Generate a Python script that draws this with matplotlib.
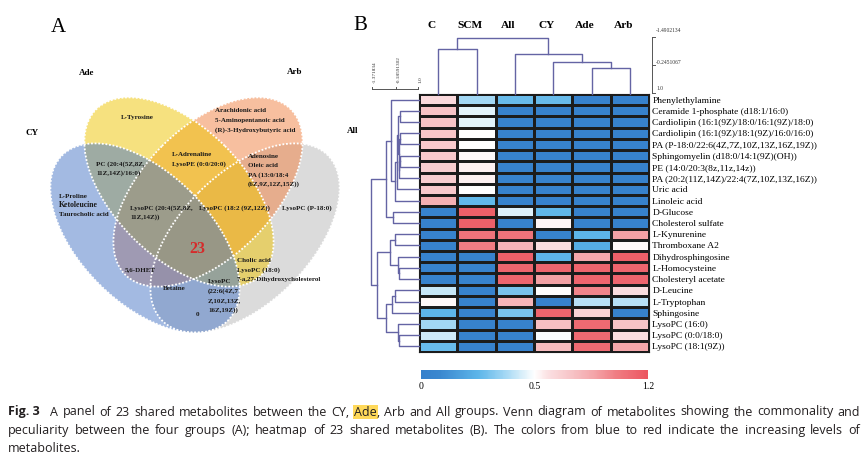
import matplotlib
matplotlib.use("Agg")
import numpy as np
import matplotlib.pyplot as plt
from matplotlib.patches import Ellipse
from matplotlib.colors import LinearSegmentedColormap, TwoSlopeNorm

plt.rcParams['font.family'] = ['Liberation Serif', 'DejaVu Serif']

# ---- heatmap data (panel B) ----
groups = ["C", "SCM", "All", "CY", "Ade", "Arb"]
metabolites = ["Phenylethylamine", "Ceramide 1-phosphate (d18:1/16:0)",
               "Cardiolipin (16:1(9Z)/18:0/16:1(9Z)/18:0)",
               "Cardiolipin (16:1(9Z)/18:1(9Z)/16:0/16:0)",
               "PA (P-18:0/22:6(4Z,7Z,10Z,13Z,16Z,19Z))",
               "Sphingomyelin (d18:0/14:1(9Z)(OH))",
               "PE (14:0/20:3(8z,11z,14z))",
               "PA (20:2(11Z,14Z)/22:4(7Z,10Z,13Z,16Z))",
               "Uric acid", "Linoleic acid", "D-Glucose", "Cholesterol sulfate",
               "L-Kynurenine", "Thromboxane A2", "Dihydrosphingosine",
               "L-Homocysteine", "Cholesteryl acetate", "D-Leucine",
               "L-Tryptophan", "Sphingosine", "LysoPC (16:0)",
               "LysoPC (0:0/18:0)", "LysoPC (18:1(9Z))"]
lv_C = [0.62, 0.73, 0.73, 0.72, 0.70, 0.70, 0.68, 0.68, 0.70, 0.82, 0.03, 0.03,
        0.03, 0.03, 0.03, 0.03, 0.03, 0.42, 0.52, 0.25, 0.37, 0.43, 0.27]
lv_SCM = [0.37, 0.46, 0.46, 0.50, 0.50, 0.52, 0.54, 0.54, 0.50, 0.26, 1.15, 1.15,
          1.05, 1.00, 0.03, 0.03, 0.03, 0.03, 0.03, 0.03, 0.03, 0.03, 0.03]
lv_All = [0.27, 0.03, 0.03, 0.03, 0.03, 0.03, 0.03, 0.03, 0.03, 0.03, 0.45, 0.03,
          1.05, 0.80, 1.15, 1.12, 1.12, 0.30, 0.80, 0.30, 0.03, 0.03, 0.03]
lv_CY = [0.27, 0.03, 0.03, 0.03, 0.03, 0.03, 0.03, 0.03, 0.03, 0.03, 0.26, 0.53,
         0.03, 0.60, 0.25, 1.12, 0.88, 0.51, 0.03, 1.12, 0.75, 0.49, 0.77]
lv_Ade = [0.03, 0.03, 0.03, 0.03, 0.03, 0.03, 0.03, 0.03, 0.03, 0.03, 0.03, 0.03,
          0.25, 0.22, 0.85, 1.12, 1.12, 0.98, 0.40, 0.65, 1.10, 1.10, 1.10]
lv_Arb = [0.03, 0.03, 0.03, 0.03, 0.03, 0.03, 0.03, 0.03, 0.03, 0.03, 0.03, 0.03,
          0.88, 0.52, 1.15, 1.12, 1.12, 0.60, 0.40, 0.03, 0.73, 0.60, 0.86]
levels = np.array([lv_C, lv_SCM, lv_All, lv_CY, lv_Ade, lv_Arb]).T

# dendrograms: (left, right, merge height)
col_tree = ((0, 1, 45), (2, (3, (4, 5, 26), 32), 40), 56)
r_a = (((1, 2, 19), ((3, 4, 19), ((5, 6, 19), 7, 20), 20.5), 21), 8, 22)
r_up = ((0, (r_a, 9, 24), 28), (10, 11, 26), 33.3)
r_lo = (((12, 13, 24), (14, (15, 16, 20), 21.3), 29),
        (((17, 18, 24), 19, 27.3), (20, (21, 22, 20), 21.3), 33.3), 42.3)
row_tree = (r_up, r_lo, 48.3)

# ---- venn data (panel A) ----
venn_names = ["CY", "Ade", "Arb", "All"]
venn_colors = ["#4877c7", "#efc500", "#f18141", "#b9b9b9"]
venn_text = [
    (["L-Tyrosine"], 137, 117, 'center'),
    (["Arachidonic acid", "5-Aminopentanoic acid", "(R)-3-Hydroxybutyric acid"], 215, 111, 'left'),
    (["L-Adrenaline", "LysoPE (0:0/20:0)"], 172, 155, 'left'),
    (["Adenosine", "Oleic acid", "PA (13:0/18:4", "(6Z,9Z,12Z,15Z))"], 248, 156, 'left'),
    (["PC (20:4(5Z,8Z,", "11Z,14Z)/16:0)"], 96, 164, 'left'),
    (["L-Proline", "Ketoleucine", "Taurocholic acid"], 59, 196, 'left'),
    (["LysoPC (20:4(5Z,8Z,", "11Z,14Z))"], 130, 208, 'left'),
    (["LysoPC (18:2 (9Z,12Z))"], 199, 208, 'left'),
    (["LysoPC (P-18:0)"], 282, 208, 'left'),
    (["Cholic acid", "LysoPC (18:0)", "7-a,27-Dihydroxycholesterol"], 237, 261, 'left'),
    (["5,6-DHET"], 140, 270, 'center'),
    (["Betaine"], 174, 289, 'center'),
    (["LysoPC", "(22:6(4Z,7", "Z,10Z,13Z,", "16Z,19Z))"], 208, 282, 'left'),
    (["0"], 197, 314, 'center'),
]
shared_count = 23

fig = plt.figure(figsize=(8.67, 4.59), dpi=100)
bg = fig.add_axes([0, 0, 1, 1])
bg.set_xlim(0, 867)
bg.set_ylim(459, 0)
bg.axis('off')

W, H = 867, 459
def px_axes(x0, y0, x1, y1):
    return fig.add_axes([x0 / W, (H - y1) / H, (x1 - x0) / W, (y1 - y0) / H])

# ---------------- panel A ----------------
bg.text(58, 27, "A", fontsize=15, ha='center', va='center')
ell = {"CY": (145, 238, -1), "Ade": (179, 192, -1), "Arb": (208, 192, 1), "All": (245, 238, 1)}
order = ["All", "Arb", "Ade", "CY"]
for name in order:
    cx, cy, s = ell[name]
    col = venn_colors[venn_names.index(name)]
    bg.add_patch(Ellipse((cx, cy), 234, 130, angle=-45 * s, facecolor=col,
                         alpha=0.5, edgecolor='none'))
for name in order:
    cx, cy, s = ell[name]
    bg.add_patch(Ellipse((cx, cy), 234, 130, angle=-45 * s, fill=False,
                         edgecolor='white', lw=1.3, ls=(0, (1, 1))))

label_pos = {"CY": (32, 133), "Ade": (87, 73), "Arb": (295, 72), "All": (353, 131)}
for name in venn_names:
    x, y = label_pos[name]
    bg.text(x, y, name, fontsize=6.5, fontweight='bold', ha='center', va='center')

for lines, x, y, ha in venn_text:
    for i, ln in enumerate(lines):
        fs = 5.6 if ln == "Ketoleucine" else 5.0
        bg.text(x, y + i * 9.4, ln, fontsize=fs, fontweight='bold', ha=ha,
                va='center', color='#1a1a1a')
bg.text(197, 249, str(shared_count), fontsize=11.5, fontweight='bold',
        color='#d62a2a', ha='center', va='center')

# ---------------- panel B ----------------
bg.text(360, 26, "B", fontsize=15, ha='center', va='center')

cmap = LinearSegmentedColormap.from_list("bwr_custom", [
    (0.0, '#3580cc'), (0.08, '#3a87cf'), (0.25, '#5cb5e9'), (0.37, '#a3d7f4'),
    (0.45, '#dcf0fa'), (0.5, '#ffffff'), (0.56, '#fbe0e2'), (0.68, '#f6bfc2'),
    (0.76, '#f4a6aa'), (0.86, '#f07d83'), (1.0, '#ec5660')])
norm = TwoSlopeNorm(vmin=0, vcenter=0.5, vmax=1.2)

ax = px_axes(419, 94, 649, 352)
mesh = ax.pcolormesh(np.arange(len(groups) + 1), np.arange(len(metabolites) + 1),
                     levels, cmap=cmap, norm=norm, edgecolors='#1c1c1c', linewidth=0.8)
ax.set_xlim(0, len(groups))
ax.set_ylim(len(metabolites), 0)
ax.set_xticks([])
ax.yaxis.tick_right()
ax.set_yticks(np.arange(len(metabolites)) + 0.5)
ax.set_yticklabels(metabolites, fontsize=6.8)
ax.tick_params(axis='y', length=0, pad=2.5)
for sp in ax.spines.values():
    sp.set_color('#1c1c1c')
    sp.set_linewidth(0.8)
for j, g in enumerate(groups):
    ax.text(j + 0.5 - 0.17, -6.07, g, fontsize=8.2, fontweight='bold',
            ha='center', va='center', clip_on=False)

dcol = '#6464a4'
def draw_tree(a, node, vertical):
    if isinstance(node, int):
        return node + 0.5, 0.0
    left, right, h = node
    p1, h1 = draw_tree(a, left, vertical)
    p2, h2 = draw_tree(a, right, vertical)
    if vertical:
        a.plot([p1, p1, p2, p2], [h1, h, h, h2], color=dcol, lw=1.0, clip_on=False)
    else:
        a.plot([h1, h, h, h2], [p1, p1, p2, p2], color=dcol, lw=1.0, clip_on=False)
    return (p1 + p2) / 2, h

axc = px_axes(419, 30, 649, 94)
axc.set_xlim(0, len(groups))
axc.set_ylim(0, 64)
axc.axis('off')
draw_tree(axc, col_tree, True)

axr = px_axes(355, 94, 419, 352)
axr.set_xlim(64, 0)
axr.set_ylim(len(metabolites), 0)
axr.axis('off')
draw_tree(axr, row_tree, False)

# scale bars
sc = '#555555'
bg.plot([372, 418], [89, 89], color=sc, lw=0.7)
for xt, lab in zip([372, 396, 418], ["-1.371834", "-0.18591302", "1.0"]):
    bg.plot([xt, xt], [89, 86.5], color=sc, lw=0.7)
    bg.text(xt + 3, 83, lab, fontsize=3.8, rotation=90, ha='center', va='bottom', color='#333333')
bg.plot([652, 652], [37, 93], color=sc, lw=0.7)
for yt, yl, lab in zip([37, 65, 93], [30, 63, 88], ["-1.4902134", "-0.2451067", "1.0"]):
    bg.plot([652, 654.5], [yt, yt], color=sc, lw=0.7)
    bg.text(656, yl, lab, fontsize=4.0, ha='left', va='center', color='#333333')

cax = px_axes(421, 370, 648, 379)
cb = fig.colorbar(mesh, cax=cax, orientation='horizontal', ticks=[0, 0.5, 1.2])
cb.set_ticklabels(["0", "0.5", "1.2"])
cb.outline.set_visible(False)
cb.ax.tick_params(length=0, pad=2.5, labelsize=7)

# ---------------- caption ----------------
cap_font = dict(family=['Open Sans', 'DejaVu Sans'], fontsize=9.0, color='#231f20')
renderer = fig.canvas.get_renderer()

def caption_line(y, words, x0=8, x1=860, justify=True):
    placed = []
    for word in words:
        parts = []
        for txt, extra in word:
            t = bg.text(0, y, txt, ha='left', va='center', **cap_font, **extra)
            parts.append((t, t.get_window_extent(renderer=renderer).width))
        placed.append(parts)
    widths = [sum(w for _, w in p) for p in placed]
    gap = (x1 - x0 - sum(widths)) / (len(placed) - 1) if justify else 2.8
    x = x0
    for parts, wsum in zip(placed, widths):
        xx = x
        for t, w in parts:
            t.set_x(xx)
            xx += w
        x += wsum + gap

def to_words(s):
    out = []
    for w in s.split():
        if w == "Ade,":
            out.append([("Ade", dict(bbox=dict(facecolor='#ffd95a', edgecolor='none', pad=0.6))),
                        (",", {})])
        else:
            out.append([(w, {})])
    return out

cap1 = "A panel of 23 shared metabolites between the CY, Ade, Arb and All groups. Venn diagram of metabolites showing the commonality and"
cap2 = "peculiarity between the four groups (A); heatmap of 23 shared metabolites (B). The colors from blue to red indicate the increasing levels of"
cap3 = "metabolites."
caption_line(412, [[("Fig. 3  ", dict(fontweight='bold'))]] + to_words(cap1))
caption_line(430.5, to_words(cap2))
caption_line(448.5, to_words(cap3), justify=False)

fig.savefig("out.png", dpi=100)
